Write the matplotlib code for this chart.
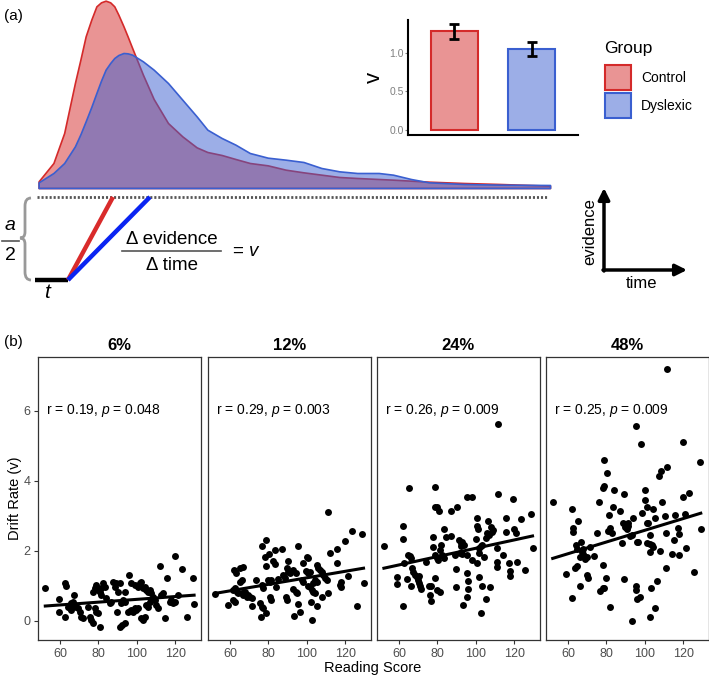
import numpy as np
import matplotlib.pyplot as plt
from matplotlib.colors import to_rgba
from matplotlib.path import Path
from matplotlib.patches import PathPatch, Rectangle

plt.rcParams['font.family'] = ['Liberation Sans', 'DejaVu Sans']
plt.rcParams['mathtext.fontset'] = 'custom'
plt.rcParams['mathtext.it'] = 'Liberation Sans:italic'
plt.rcParams['mathtext.rm'] = 'Liberation Sans'

# ---------------- (a) RT distributions, arbitrary time / density units
rt_grid = [0.000, 0.029, 0.050, 0.071, 0.082, 0.092, 0.103, 0.113, 0.122, 0.131, 0.140,
           0.148, 0.156, 0.166, 0.174, 0.183, 0.204, 0.225, 0.253, 0.281, 0.309, 0.330,
           0.358, 0.385, 0.413, 0.448, 0.483, 0.518, 0.553, 0.588, 0.623, 0.665, 0.693,
           0.728, 0.763, 0.832, 0.902, 1.000]
dens_control = [0.20, 0.75, 1.65, 3.15, 3.87, 4.55, 5.05, 5.45, 5.57, 5.62, 5.57,
                5.45, 5.20, 4.85, 4.55, 4.20, 3.40, 2.67, 1.95, 1.55, 1.22, 1.08,
                0.99, 0.87, 0.75, 0.68, 0.55, 0.47, 0.40, 0.33, 0.30, 0.27, 0.25,
                0.22, 0.19, 0.15, 0.12, 0.07]
dens_dyslexic = [0.17, 0.45, 0.75, 1.25, 1.62, 2.00, 2.43, 2.85, 3.22, 3.55, 3.75,
                 3.90, 3.99, 4.05, 4.04, 4.00, 3.80, 3.55, 3.15, 2.65, 2.15, 1.75,
                 1.50, 1.30, 1.05, 0.91, 0.85, 0.78, 0.60, 0.50, 0.45, 0.45, 0.40,
                 0.27, 0.17, 0.12, 0.10, 0.09]

groups = ['Control', 'Dyslexic']
drift_mean = [1.28, 1.05]
drift_lo = [1.18, 0.96]
drift_hi = [1.37, 1.13]

# ---------------- (b) drift rate vs reading score
coherence = ['6%', '12%', '24%', '48%']
r_vals = ['0.19', '0.29', '0.26', '0.25']
p_vals = ['0.048', '0.003', '0.009', '0.009']

x6 = [52.3, 62.8, 63.3, 59.3, 67.3, 59.3, 62.4, 65.5, 66.8, 67.6, 68.5, 69.4, 70.2, 71.1, 72.0, 65.9, 64.2, 65.0,
      74.6, 75.5, 76.3, 77.2, 78.1, 78.9, 79.8, 80.7,
      77.2, 78.1, 78.9, 79.8, 80.7, 81.5, 82.4, 83.3, 81.5, 84.2, 85.9, 86.8,
      87.6, 88.5, 89.4, 90.2, 91.1, 89.7, 92.0, 92.8, 93.7, 94.1, 96.0,
      95.5, 96.3, 97.2, 98.1, 98.9, 99.8, 100.7,
      100.7, 101.5, 102.4, 103.3, 104.2, 105.0, 105.9, 106.8, 107.6,
      102.4, 103.3, 104.2, 91.1, 92.3, 93.7, 105.0, 105.9, 106.8,
      109.4, 110.2, 111.1, 112.0, 112.8, 113.7, 114.6, 115.8,
      117.2, 118.1, 118.9, 119.8, 119.8, 121.5, 123.6, 126.2, 129.5, 129.9,
      108.5, 107.6, 97.2, 98.9]
y6 = [0.93, 1.09, 0.99, 0.61, 0.74, 0.26, 0.10, 0.50, 0.54, 0.45, 0.40, 0.35, 0.26, 0.12, 0.07, 0.31, 0.40, 0.35,
      0.40, 0.12, 0.02, -0.07, 0.35, 0.26, 0.21, -0.19,
      0.83, 0.93, 1.02, 0.88, 0.83, 0.93, 1.07, 0.97, 0.74, 0.64, 0.50, 0.54,
      1.12, 0.97, 1.07, 0.83, 1.07, 0.26, 0.50, 0.59, 0.54, 0.83, 1.31,
      0.26, 0.29, 0.31, 0.26, 0.35, 0.31, 0.35,
      0.97, 1.07, 1.12, 0.93, 0.97, 0.88, 0.83, 0.88, 0.78,
      0.07, 0.02, 0.12, -0.19, -0.12, -0.07, 0.45, 0.40, 0.54,
      0.59, 0.45, 0.35, 1.56, 0.74, 0.78, 0.07, 1.21,
      0.54, 0.59, 0.50, 0.54, 1.85, 0.74, 1.47, 0.12, 1.21, 0.47,
      0.69, 0.59, 1.07, 1.02]

x12 = [52.1, 59.0, 61.6, 62.5, 62.2, 62.9, 65.1, 66.5, 65.1, 66.0,
       61.6, 62.5, 63.4, 64.3, 66.0, 66.9, 67.7, 68.6, 69.5, 70.3, 71.2, 71.2,
       73.5, 75.6, 76.4, 77.3, 76.1, 79.0, 76.4, 77.3, 76.9, 79.0, 78.2, 78.5,
       79.6, 80.8, 81.6, 80.4, 83.4, 87.2, 80.8, 81.6, 82.5, 83.4, 83.9, 85.1,
       87.7, 88.6, 89.1, 89.5, 90.3, 89.8, 90.3, 91.2, 92.9, 94.2,
       92.9, 94.3, 94.7, 95.6, 95.6, 96.4, 93.5, 97.3, 98.2,
       98.2, 99.9, 100.8, 99.4, 100.8, 101.6,
       100.8, 101.6, 102.5, 103.4, 104.3, 102.2, 102.5, 103.4, 104.3, 105.1,
       105.1, 106.0, 106.9, 107.7, 105.6, 107.7, 108.6, 109.5, 110.3,
       111.2, 111.2, 112.1, 115.6, 115.6, 117.3, 117.8, 117.8, 119.9, 121.3,
       123.4, 126.0, 128.9, 129.6]
y12 = [0.75, 0.44, 0.59, 0.54, 1.45, 1.37, 1.50, 1.52, 1.12, 1.16,
       0.88, 0.93, 0.83, 0.78, 0.78, 0.73, 0.83, 0.69, 0.73, 0.69, 0.64, 0.43,
       1.16, 0.50, 0.40, 0.35, 0.12, 0.21, 1.02, 0.93, 2.13, 2.31, 1.83, 1.56,
       1.16, 1.12, 1.16, 1.91, 2.02, 2.04, 0.69, 0.59, 1.71, 1.62, 0.95, 1.18,
       1.31, 1.21, 0.69, 0.59, 1.71, 1.50, 1.40, 1.35, 1.45, 1.37,
       0.90, 0.83, 0.78, 2.14, 0.47, 0.26, 0.13, 1.16, 1.12,
       1.64, 1.83, 1.78, 1.43, 1.35, 1.40,
       0.99, 0.97, 0.88, 0.83, 0.78, 0.54, 0.02, 1.07, 1.16, 1.12,
       1.59, 1.50, 1.45, 1.40, 0.42, 0.69, 1.31, 1.21, 1.16,
       3.10, 0.80, 1.93, 2.04, 1.66, 1.02, 0.95, 1.12, 2.29, 1.28,
       2.56, 0.42, 2.47, 1.09]

x24 = [52.1, 59.0, 59.0, 61.8, 62.2, 61.8, 63.9, 65.1, 64.6, 65.5, 66.3, 62.5, 66.0,
       66.9, 67.4, 68.1, 69.1, 69.8, 70.3, 70.9, 71.2, 70.3, 73.8, 75.6, 76.4,
       76.1, 76.8, 77.8, 77.8, 78.5, 79.6, 79.0, 78.5, 79.6, 80.3, 79.0, 79.9, 81.6,
       80.8, 82.0, 81.6, 82.5, 83.4, 83.4, 84.3, 87.2, 87.2, 89.0, 89.5, 89.5,
       90.3, 91.2, 92.1, 92.9, 93.8, 92.4, 91.7, 92.9, 93.5, 95.2, 98.2,
       95.6, 95.9, 95.9, 95.6, 95.6, 98.2, 99.9, 100.4, 100.8, 100.4, 101.1,
       101.6, 102.5, 103.4, 101.6, 102.9, 101.6, 103.4, 104.3, 105.1, 106.0, 106.9,
       106.3, 107.4, 105.6, 107.7, 108.6, 109.1, 111.2, 110.9, 111.2, 111.7, 111.4,
       114.3, 115.6, 115.6, 117.3, 117.8, 117.8, 119.6, 119.9, 120.8, 121.6,
       123.4, 125.6, 128.9, 129.6]
y24 = [2.14, 1.26, 1.05, 0.42, 2.71, 2.33, 1.18, 3.78, 1.88, 1.85, 1.78, 1.64, 0.99,
       1.50, 1.40, 1.31, 1.26, 1.16, 1.07, 0.99, 0.92, 1.28, 1.69, 0.99, 0.99,
       0.73, 0.57, 2.40, 2.10, 3.26, 3.24, 3.81, 1.88, 1.78, 1.73, 1.21, 0.88, 0.83,
       3.12, 2.16, 2.02, 1.88, 1.78, 2.62, 2.40, 3.12, 2.42, 1.88, 1.48, 0.97,
       3.24, 2.31, 2.21, 2.26, 2.16, 2.12, 1.94, 1.91, 0.45, 3.54, 3.52,
       1.37, 1.14, 0.90, 0.69, 1.88, 1.73, 2.33, 1.66, 2.93, 2.71, 2.61,
       2.07, 2.12, 2.16, 1.94, 0.21, 1.26, 0.99, 1.83, 2.35, 2.50, 2.45,
       2.86, 0.97, 0.62, 2.69, 2.54, 2.59, 2.07, 1.69, 1.52, 3.62, 5.62,
       1.88, 2.94, 2.54, 1.66, 1.42, 1.28, 3.47, 2.61, 2.50, 1.69,
       2.91, 1.45, 3.04, 2.07]

x48 = [52.0, 59.0, 61.9, 62.5, 62.8, 65.1, 61.9, 64.2, 64.5, 63.7, 64.9,
       66.3, 67.2, 67.7, 68.0, 68.9, 69.8, 66.6, 66.3, 70.1, 70.6, 71.2, 73.6,
       75.3, 75.9, 78.1, 78.8, 78.5, 80.2, 78.1, 79.9, 76.7, 78.1, 78.8,
       80.6, 81.9, 81.1, 81.9, 83.3, 82.8, 83.7, 87.2, 88.0, 88.9, 89.8,
       89.2, 90.6, 91.5, 91.0, 92.4, 93.2, 93.8, 89.2, 93.2,
       95.9, 96.7, 95.5, 95.5, 96.2, 95.5, 98.1, 98.5, 100.2, 100.2,
       101.1, 101.9, 101.1, 102.5, 101.4, 102.8, 103.7, 104.2, 102.8, 103.2,
       104.2, 105.4, 97.3, 102.5, 105.4, 107.2, 107.7, 108.9, 106.6,
       110.6, 111.2, 111.2, 111.5, 108.4, 111.5, 114.1, 115.3, 115.9, 117.1,
       117.6, 118.1, 119.9, 120.2, 121.1, 121.6, 123.3, 125.8, 128.9, 129.2]
y48 = [3.40, 1.33, 3.18, 2.64, 2.54, 2.85, 0.64, 2.16, 2.04, 1.50, 1.56,
       1.83, 1.97, 2.04, 1.91, 1.75, 1.83, 2.26, 0.99, 1.31, 1.21, 2.10, 1.85,
       2.51, 3.40, 3.78, 3.85, 4.59, 4.21, 1.59, 1.21, 0.85, 0.93, 0.93,
       2.57, 0.38, 3.02, 2.64, 3.26, 2.51, 3.73, 3.12, 2.21, 2.78, 2.69,
       3.62, 2.61, 2.71, 2.78, 2.42, 2.45, 2.93, 1.18, 0.00,
       2.26, 2.26, 0.99, 0.88, 0.61, 5.57, 5.04, 3.07, 3.73, 3.45,
       2.78, 2.80, 2.21, 2.19, 3.24, 2.45, 2.15, 2.10, 1.97, 0.93,
       3.18, 2.93, 0.67, 0.10, 0.37, 4.12, 1.99, 3.40, 1.14,
       3.00, 2.50, 1.50, 4.40, 4.27, 7.18, 1.91, 2.31, 3.02, 2.64,
       2.48, 1.88, 5.09, 3.53, 3.05, 2.07, 3.64, 1.38, 4.53, 2.61]

# fitted line value at min / max reading score of each panel
fit_6 = [0.42, 0.73]
fit_12 = [0.78, 1.50]
fit_24 = [1.50, 2.42]
fit_48 = [1.78, 3.07]

scores = [x6, x12, x24, x48]
drifts = [y6, y12, y24, y48]
fits = [fit_6, fit_12, fit_24, fit_48]

col_red = '#D42A2A'
col_blue = '#3A5FD0'
group_cols = [col_red, col_blue]
W, H = 709, 676

fig = plt.figure(figsize=(W / 100, H / 100), dpi=100)

# overlay in pixel units for the schematic, legend and panel letters
ax0 = fig.add_axes([0, 0, 1, 1])
ax0.set_xlim(0, W)
ax0.set_ylim(H, 0)
ax0.axis('off')

ax0.text(4, 16, '(a)', fontsize=11, va='center')
ax0.text(4, 342, '(b)', fontsize=11, va='center')

# threshold, non-decision time and drift lines
ax0.plot([37, 548], [197, 197], color='#555555', lw=2, dashes=(0.75, 0.7))
ax0.plot([35, 68], [280, 280], color='black', lw=3.2, solid_capstyle='butt')
ax0.plot([68, 113], [280, 197], color='#D92B2B', lw=3.2, solid_capstyle='butt')
ax0.plot([68, 150], [280, 197], color='#0A24F2', lw=3.2, solid_capstyle='butt')
ax0.text(47, 293, 't', fontsize=15, style='italic', ha='center', va='center')

# curly brace for a/2
brace = Path([(31, 198), (25, 198), (25, 206), (25, 232), (25, 238), (20, 238),
              (25, 238), (25, 244), (25, 272), (25, 280), (31, 280)],
             [Path.MOVETO, Path.CURVE3, Path.CURVE3, Path.LINETO, Path.CURVE3, Path.CURVE3,
              Path.CURVE3, Path.CURVE3, Path.LINETO, Path.CURVE3, Path.CURVE3])
ax0.add_patch(PathPatch(brace, facecolor='none', edgecolor='#999999', lw=2))
ax0.text(10, 225, 'a', fontsize=14, style='italic', ha='center', va='center')
ax0.plot([2, 19], [241, 241], color='#555555', lw=1.2)
ax0.text(10, 256, '2', fontsize=14, ha='center', va='center')

ax0.text(172, 240, '\u0394 evidence', fontsize=13.5, ha='center', va='center')
ax0.plot([122, 221], [251, 251], color='#555555', lw=1.2)
ax0.text(172, 265, '\u0394 time', fontsize=13.5, ha='center', va='center')
ax0.text(232, 251, '= $v$', fontsize=13.5, ha='left', va='center')

# evidence / time axes sketch
ax0.annotate('', xy=(604, 188), xytext=(604, 271),
             arrowprops=dict(arrowstyle='-|>', lw=2.5, color='black', mutation_scale=17,
                             shrinkA=0, shrinkB=0))
ax0.annotate('', xy=(687, 270), xytext=(603, 270),
             arrowprops=dict(arrowstyle='-|>', lw=2.5, color='black', mutation_scale=17,
                             shrinkA=0, shrinkB=0))
ax0.text(590, 232, 'evidence', fontsize=12, rotation=90, ha='center', va='center')
ax0.text(642, 283, 'time', fontsize=12, ha='center', va='center')

# legend (drawn by hand, ggplot style)
ax0.text(604, 48, 'Group', fontsize=12.5, ha='left', va='center')
for k, g in enumerate(groups):
    y_top = 65 + 28 * k
    ax0.add_patch(Rectangle((605, y_top), 26, 25, facecolor=to_rgba(group_cols[k], 0.5),
                            edgecolor=group_cols[k], lw=1.5))
    ax0.text(641, y_top + 13, g, fontsize=10, ha='left', va='center')

# density curves
axd = fig.add_axes([38.6 / W, 1 - 188 / H, 511.4 / W, 188 / H])
axd.set_facecolor('none')
axd.fill_between(rt_grid, 0, dens_control, facecolor=to_rgba(col_red, 0.5),
                 edgecolor=col_red, lw=1.2, clip_on=False)
axd.fill_between(rt_grid, 0, dens_dyslexic, facecolor=to_rgba(col_blue, 0.5),
                 edgecolor=col_blue, lw=1.2, clip_on=False)
axd.set_xlim(0, 1)
axd.set_ylim(0, 5.64)
axd.axis('off')

# inset bar chart of mean drift rate
axb = fig.add_axes([408 / W, 1 - 135 / H, 170 / W, 115 / H])
bar_pos = np.arange(1, len(groups) + 1)
axb.bar(bar_pos, drift_mean, width=0.6,
        color=[to_rgba(c, 0.5) for c in group_cols],
        edgecolor=group_cols, lw=1.5)
err = [np.array(drift_mean) - np.array(drift_lo), np.array(drift_hi) - np.array(drift_mean)]
axb.errorbar(bar_pos, drift_mean, yerr=err, fmt='none', ecolor='black',
             elinewidth=2, capsize=3.5, capthick=2)
axb.set_xlim(0.4, 2.6)
axb.set_ylim(-0.065, 1.42)
axb.set_xticks([])
axb.set_yticks([0, 0.5, 1.0])
axb.set_yticklabels(['0.0', '0.5', '1.0'])
axb.tick_params(axis='y', labelsize=7.5, labelcolor='#7F7F7F', color='#7F7F7F', length=2, pad=1)
for s in ['top', 'right']:
    axb.spines[s].set_visible(False)
for s in ['left', 'bottom']:
    axb.spines[s].set_linewidth(1.5)
axb.set_ylabel('v', fontsize=16, labelpad=3)

# scatter panels
lefts = [38, 208, 377, 546]
for i in range(4):
    ax = fig.add_axes([lefts[i] / W, 36 / H, 163 / W, 283 / H])
    ax.scatter(scores[i], drifts[i], s=25, color='black', linewidths=0, zorder=3)
    ax.plot([min(scores[i]), max(scores[i])], fits[i], color='black', lw=2.2, zorder=4)
    ax.text(52.5, 6, 'r = %s, $p$ = %s' % (r_vals[i], p_vals[i]), fontsize=10, va='center')
    ax.set_xlim(48.5, 133.5)
    ax.set_ylim(-0.55, 7.53)
    ax.set_xticks([60, 80, 100, 120])
    if i == 0:
        ax.set_yticks([0, 2, 4, 6])
    else:
        ax.set_yticks([])
    for s in ax.spines.values():
        s.set_color('#333333')
        s.set_linewidth(0.9)
    ax.tick_params(color='#333333', labelcolor='#4D4D4D', labelsize=9, length=3,
                   width=0.8, pad=2.5)
    ax.set_title(coherence[i], fontsize=12, fontweight='bold', pad=5)

fig.text(15 / W, 1 - 498 / H, 'Drift Rate (v)', rotation=90, fontsize=10.5,
         ha='center', va='center')
fig.text(373 / W, 1 - 668 / H, 'Reading Score', fontsize=10.5, ha='center', va='center')

plt.savefig('out.png', dpi=100)
